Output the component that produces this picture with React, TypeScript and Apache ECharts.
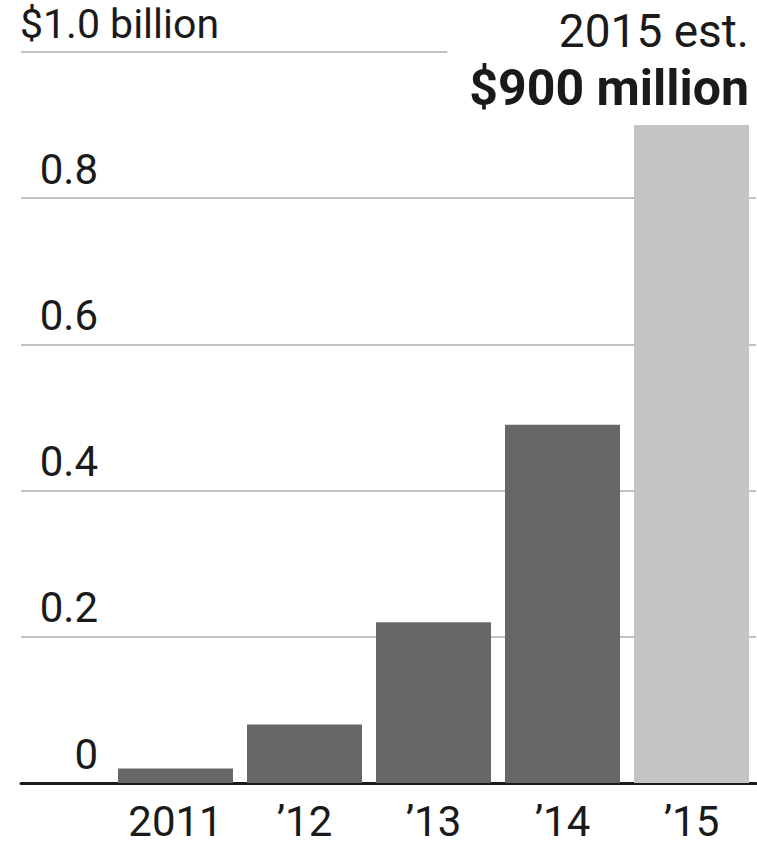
import React, { useEffect, useRef } from 'react';
import * as echarts from 'echarts';

const categories = ['2011', '\u201912', '\u201913', '\u201914', '\u201915'];
const values = [0.02, 0.08, 0.22, 0.49, 0.9];
const barColors = ['#676767', '#676767', '#676767', '#676767', '#c4c4c4'];
const yTicks = [0, 0.2, 0.4, 0.6, 0.8, 1.0];
const yTickLabels = ['0', '0.2', '0.4', '0.6', '0.8', ''];
const unitLabel = '$1.0 billion';
const noteLine1 = '2015 est.';
const noteLine2 = '$900 million';

const FONT = 'Roboto, "Noto Sans", sans-serif';
const TEXT = '#1a1a1a';
const GRID_COLOR = '#c2c2c2';

export default function App() {
  const ref = useRef<HTMLDivElement>(null);

  useEffect(() => {
    document.body.style.margin = '0';
    if (!ref.current) return;
    const chart = echarts.init(ref.current, undefined, { renderer: 'svg' });
    const top = 52;
    const bottom = 66;
    chart.setOption({
      animation: false,
      backgroundColor: '#ffffff',
      title: {
        text: unitLabel,
        left: 20,
        top: 3,
        padding: 0,
        textStyle: { fontFamily: FONT, fontSize: 41, fontWeight: 'normal', color: TEXT, lineHeight: 42 },
      },
      grid: [
        { left: 21, right: 1, top, bottom, outerBoundsMode: 'none' },
        { left: 111, right: 1, top, bottom, outerBoundsMode: 'none' },
      ],
      xAxis: [
        {
          type: 'value',
          gridIndex: 0,
          min: 0,
          max: 1,
          axisLine: { show: true, onZero: false, lineStyle: { color: TEXT, width: 3 } },
          axisTick: { show: false },
          axisLabel: { show: false },
          splitLine: { show: false },
        },
        {
          type: 'category',
          gridIndex: 1,
          data: categories,
          axisLine: { show: false },
          axisTick: { show: false },
          axisLabel: { fontFamily: FONT, fontSize: 42, color: TEXT, margin: 17, lineHeight: 42 },
        },
      ],
      yAxis: [
        {
          type: 'value',
          gridIndex: 0,
          min: 0,
          max: 1,
          interval: 0.2,
          axisLine: { show: false },
          axisTick: { show: false },
          axisLabel: {
            inside: true,
            margin: 77,
            align: 'right',
            verticalAlign: 'bottom',
            padding: [0, 0, 8, 0],
            fontFamily: FONT,
            fontSize: 42,
            lineHeight: 42,
            color: TEXT,
            formatter: (v: number) => {
              const i = yTicks.findIndex((t) => Math.abs(t - v) < 1e-9);
              return i >= 0 ? yTickLabels[i] : '';
            },
          },
          splitLine: { show: true, showMinLine: false, showMaxLine: false, lineStyle: { color: GRID_COLOR, width: 2 } },
        },
        { type: 'value', gridIndex: 1, min: 0, max: 1, show: false },
      ],
      series: [
        {
          type: 'bar',
          xAxisIndex: 1,
          yAxisIndex: 1,
          barWidth: 115,
          data: values.map((v, i) => ({
            value: v,
            itemStyle: { color: barColors[i] },
            label:
              i === values.length - 1
                ? {
                    show: true,
                    position: ['100%', -9],
                    align: 'right',
                    verticalAlign: 'bottom',
                    formatter: `{a|${noteLine1}}\n{b|${noteLine2}}`,
                    rich: {
                      a: { fontFamily: FONT, fontSize: 46, lineHeight: 57, color: TEXT, align: 'right' },
                      b: { fontFamily: FONT, fontSize: 50, fontWeight: 'bold', lineHeight: 57, color: TEXT, align: 'right' },
                    },
                  }
                : { show: false },
          })),
        },
      ],
    });

    const y1 = chart.convertToPixel({ yAxisIndex: 0 }, 1) as number;
    const x0 = chart.convertToPixel({ xAxisIndex: 0 }, 0) as number;
    const xEnd = chart.convertToPixel({ xAxisIndex: 0 }, 0.58) as number;
    chart.setOption({
      graphic: [
        {
          type: 'line',
          shape: { x1: x0, y1, x2: xEnd, y2: y1 },
          style: { stroke: GRID_COLOR, lineWidth: 2 },
        },
      ],
    });

    return () => chart.dispose();
  }, []);

  return <div ref={ref} style={{ width: 757, height: 849 }} />;
}
